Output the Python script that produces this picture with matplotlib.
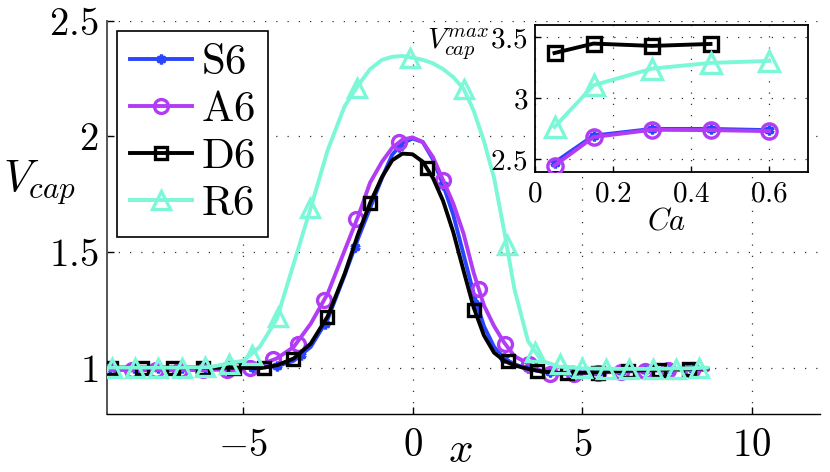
import matplotlib
matplotlib.use("Agg")
import matplotlib.pyplot as plt
from matplotlib.lines import Line2D

plt.rcParams['font.family'] = ['Liberation Serif', 'DejaVu Serif']
plt.rcParams['mathtext.fontset'] = 'cm'

# ---------------- data: main panel ----------------
x_line = [-8.9, -8, -7, -6, -5, -4.5, -4, -3.5, -3, -2.5, -2, -1.6, -1.25, -0.9, -0.6, -0.3,
          0, 0.3, 0.6, 0.9, 1.2, 1.5, 1.8, 2.1, 2.4, 2.7, 3.0, 3.4, 3.8, 4.3, 5, 6, 7, 8, 8.7]

S6_line = [1.0, 1.0, 1.0, 1.0, 1.0, 1.0, 1.006, 1.03, 1.09, 1.21, 1.40, 1.56, 1.69, 1.82, 1.92, 1.97,
           1.99, 1.975, 1.90, 1.79, 1.66, 1.49, 1.32, 1.18, 1.09, 1.04, 1.015, 0.995, 0.983, 0.978,
           0.98, 0.985, 0.99, 0.993, 0.995]
A6_line = [0.99, 0.99, 0.99, 0.99, 0.995, 1.012, 1.04, 1.09, 1.19, 1.32, 1.507, 1.655, 1.80, 1.89,
           1.95, 1.985, 1.995, 1.975, 1.91, 1.81, 1.709, 1.58, 1.41, 1.27, 1.18, 1.108, 1.05, 1.018,
           0.985, 0.972, 0.975, 0.982, 0.987, 0.99, 0.99]
D6_line = [1.0, 1.0, 1.0, 1.0, 1.0, 0.998, 1.01, 1.04, 1.104, 1.222, 1.406, 1.579, 1.712, 1.824,
           1.896, 1.925, 1.922, 1.89, 1.82, 1.72, 1.585, 1.42, 1.26, 1.14, 1.065, 1.03, 1.01, 0.995,
           0.984, 0.977, 0.978, 0.985, 0.99, 0.995, 0.997]
R6_line = [1.0, 1.0, 1.0, 1.002, 1.03, 1.09, 1.21, 1.45, 1.69, 1.94, 2.13, 2.22, 2.29, 2.33, 2.343,
           2.347, 2.34, 2.33, 2.315, 2.29, 2.255, 2.206, 2.11, 1.98, 1.82, 1.59, 1.34, 1.115, 1.03,
           1.005, 0.997, 0.995, 0.995, 0.997, 1.0]

S6_mx = [-8.9, -8.2, -7.5, -6.8, -6.1, -5.4, -4.7, -4.0, -3.3, -2.57, -1.69, -0.4, 0.9, 1.9, 2.7,
         3.4, 4.05, 4.75, 5.45, 6.15, 6.85, 7.55, 8.25]
S6_my = [1.0, 1.0, 1.0, 1.0, 1.0, 1.0, 1.0, 1.006, 1.054, 1.19, 1.52, 1.953, 1.79, 1.273, 1.04,
         0.997, 0.982, 0.978, 0.98, 0.985, 0.988, 0.991, 0.993]
A6_mx = [-8.96, -8.26, -7.56, -6.86, -6.16, -5.47, -4.80, -4.10, -3.36, -2.62, -1.66, -0.41, 0.91,
         1.95, 2.73, 3.42, 4.06, 4.75, 5.45, 6.14, 6.84, 7.53, 8.23]
A6_my = [0.99, 0.99, 0.99, 0.99, 0.99, 0.99, 1.0, 1.037, 1.104, 1.291, 1.644, 1.975, 1.81, 1.341,
         1.104, 1.017, 0.974, 0.972, 0.977, 0.982, 0.986, 0.988, 0.99]
D6_mx = [-8.87, -7.97, -7.07, -6.17, -5.27, -4.37, -3.51, -2.52, -1.25, 0.42, 1.82, 2.80, 3.66,
         4.55, 5.45, 6.35, 7.25, 8.15]
D6_my = [1.0, 1.0, 1.0, 1.0, 1.0, 1.0, 1.039, 1.219, 1.712, 1.862, 1.251, 1.027, 0.986, 0.976,
         0.979, 0.985, 0.99, 0.995]
R6_mx = [-8.86, -8.18, -7.49, -6.80, -6.11, -5.42, -4.73, -3.95, -3.02, -1.64, -0.07, 1.51, 2.78,
         3.62, 4.35, 5.0, 5.7, 6.38, 7.07, 7.75, 8.44]
R6_my = [1.0, 1.0, 1.0, 1.0, 1.002, 1.017, 1.053, 1.22, 1.69, 2.21, 2.34, 2.206, 1.53, 1.07, 1.018,
         0.997, 0.995, 0.995, 0.995, 0.996, 0.998]

labels = ['S6', 'A6', 'D6', 'R6']
x_ticks = [-5, 0, 5, 10]
y_ticks = [1, 1.5, 2, 2.5]

# ---------------- data: inset ----------------
Ca_S6 = [0.05, 0.15, 0.3, 0.45, 0.6]
Vmax_S6 = [2.475, 2.695, 2.75, 2.75, 2.74]
Ca_A6 = [0.05, 0.15, 0.3, 0.45, 0.6]
Vmax_A6 = [2.45, 2.683, 2.743, 2.74, 2.732]
Ca_D6 = [0.05, 0.15, 0.3, 0.45]
Vmax_D6 = [3.371, 3.448, 3.429, 3.445]
Ca_R6 = [0.05, 0.15, 0.3, 0.45, 0.6]
Vmax_R6 = [2.765, 3.107, 3.243, 3.29, 3.306]
inset_xticks = [0, 0.2, 0.4, 0.6]
inset_yticks = [2.5, 3, 3.5]

# ---------------- styles ----------------
colors = {'S6': '#2a45ff', 'A6': '#b23cf5', 'D6': '#000000', 'R6': '#7cf7d8'}
markers = {'S6': (6, 2, 0), 'A6': 'o', 'D6': 's', 'R6': '^'}
msize = {'S6': 7, 'A6': 10, 'D6': 8, 'R6': 13}
lw = 2.8
mew = 2.4


def mt(v):
    s = f"{v:g}"
    return r"$\mathregular{" + s.replace('-', '-') + "}$"


fig = plt.figure(figsize=(8.3, 4.72), dpi=100)
ax = fig.add_axes([107/830, 1-414/472, 713/830, (414-20.5)/472])

lines = {'S6': S6_line, 'A6': A6_line, 'D6': D6_line, 'R6': R6_line}
mks = {'S6': (S6_mx, S6_my), 'A6': (A6_mx, A6_my), 'D6': (D6_mx, D6_my), 'R6': (R6_mx, R6_my)}
z = 3
for lab in labels:
    ax.plot(x_line, lines[lab], color=colors[lab], lw=lw, zorder=z, solid_capstyle='round')
    mx, my = mks[lab]
    ax.plot(mx, my, ls='none', marker=markers[lab], ms=msize[lab], mfc='none',
            mec=colors[lab], mew=mew, zorder=z + 0.5)
    z += 1

ax.set_xlim(-9, 12)
ax.set_ylim(0.8, 2.5)
ax.set_xticks(x_ticks)
ax.set_yticks(y_ticks)
ax.set_xticklabels([r"$%g$" % t for t in x_ticks])
ax.set_yticklabels([r"$%g$" % t for t in y_ticks])
ax.tick_params(axis='both', direction='in', labelsize=28, length=5, width=1)
ax.tick_params(axis='x', pad=10)
ax.tick_params(axis='y', pad=6)
ax.grid(True, color='#333333', lw=0.9, linestyle=(0, (1, 8)))
ax.set_axisbelow(True)
ax.spines['top'].set_visible(False)
ax.spines['right'].set_visible(False)
ax.spines['left'].set_color('#555555')
ax.spines['left'].set_linewidth(1.4)
ax.spines['bottom'].set_linewidth(1.0)

fig.text(40/830, 1-183/472, r'$V_{cap}$', fontsize=32, ha='center', va='center')
fig.text(460/830, 1-452/472, r'$x$', fontsize=31, ha='center', va='center')

handles = [Line2D([], [], color=colors[l], lw=lw, marker=markers[l], ms=msize[l], mfc='none',
                  mec=colors[l], mew=mew) for l in labels]
leg = ax.legend(handles, [r"$\mathrm{%s}$" % l for l in labels], loc='upper left',
                bbox_to_anchor=(117/830, 1-31/472),
                bbox_transform=fig.transFigure, borderaxespad=0, fontsize=31, frameon=True,
                fancybox=False, framealpha=1, edgecolor='black', handlelength=1.45,
                handletextpad=0.2, borderpad=0.3, labelspacing=0.18, numpoints=1)
leg.get_frame().set_linewidth(1.2)
leg.set_zorder(20)

# ---------------- inset ----------------
axi = fig.add_axes([535/830, 1-171.7/472, 273/830, 146.7/472])
axi.plot(Ca_S6, Vmax_S6, color=colors['S6'], lw=lw, marker=markers['S6'], ms=7, mfc='none', mew=mew, zorder=3)
axi.plot(Ca_A6, Vmax_A6, color=colors['A6'], lw=lw, marker='o', ms=11, mfc='none', mew=mew, zorder=4)
axi.plot(Ca_D6, Vmax_D6, color=colors['D6'], lw=lw, marker='s', ms=10, mfc='none', mew=mew, zorder=5)
axi.plot(Ca_R6, Vmax_R6, color=colors['R6'], lw=lw, marker='^', ms=15, mfc='none', mew=mew, zorder=6)
axi.set_xlim(0, 0.7)
axi.set_ylim(2.4, 3.6)
axi.set_xticks(inset_xticks)
axi.set_yticks(inset_yticks)
axi.set_xticklabels([r"$%g$" % t for t in inset_xticks])
axi.set_yticklabels([r"$%g$" % t for t in inset_yticks])
axi.tick_params(axis='both', direction='in', labelsize=21, length=4, width=1)
axi.tick_params(axis='x', pad=7)
axi.tick_params(axis='y', pad=5)
axi.grid(True, color='#333333', lw=0.9, linestyle=(0, (1, 8)))
axi.set_axisbelow(True)
for s in axi.spines.values():
    s.set_linewidth(1.3)
fig.text(667/830, 1-222/472, r'$Ca$', fontsize=22, ha='center', va='center')
fig.text(458/830, 1-44/472, r'$V_{cap}^{max}$', fontsize=21, ha='center', va='center')

fig.savefig('out.png', dpi=100)
